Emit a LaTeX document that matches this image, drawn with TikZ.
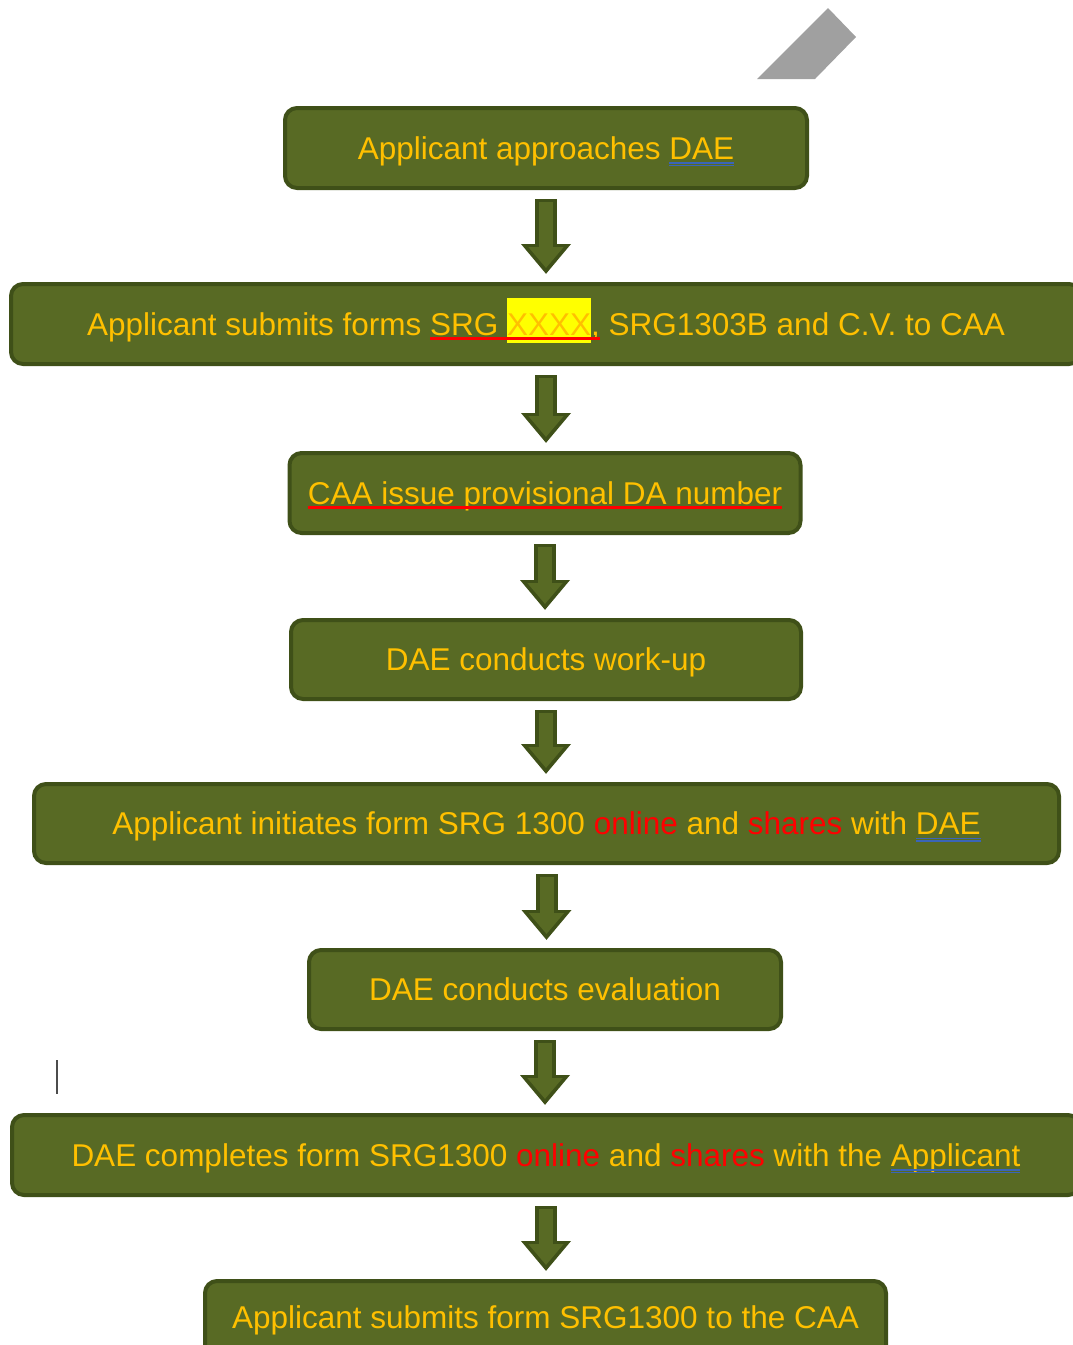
\documentclass[tikz,border=0pt]{standalone}
\usepackage{fontspec}
\setmainfont{Liberation Sans}
\usetikzlibrary{arrows.meta}
\definecolor{boxfill}{HTML}{586A24}
\definecolor{boxedge}{HTML}{3F5018}
\definecolor{gold}{HTML}{FFC000}
\definecolor{ulblue}{HTML}{3A65B8}
\definecolor{hlyellow}{HTML}{FFFF00}
\definecolor{penfill}{HTML}{A0A0A0}
\tikzstyle{box}=[draw=boxedge,line width=4pt,fill=boxfill,rounded corners=12pt,
  inner sep=0pt,text=gold,text height=24pt,text depth=2pt,
  font=\fontsize{31.5pt}{36pt}\selectfont]
\tikzstyle{flowedge}=[line width=22pt,draw=boxedge,
  -{Triangle[length=30pt,width=48pt]},shorten <=9pt,shorten >=8pt]
\tikzstyle{flowcore}=[line width=14pt,draw=boxfill,
  -{Triangle[length=21pt,width=34pt]},shorten <=12pt,shorten >=14pt]
\newsavebox\ulbox
\newcommand{\ulblue}[1]{\sbox\ulbox{#1}\usebox\ulbox\llap{\color{ulblue}%
  \rlap{\rule[-4.5pt]{\wd\ulbox}{1.4pt}}\rule[-7pt]{\wd\ulbox}{1.4pt}}}
\newcommand{\ulred}[1]{\sbox\ulbox{#1}\usebox\ulbox\llap{\color{red}%
  \rule[-5pt]{\wd\ulbox}{2.6pt}}}
\newcommand{\hlyellow}[1]{\sbox\ulbox{#1}\rlap{\color{hlyellow}%
  \rule[-8pt]{\wd\ulbox}{45pt}}\usebox\ulbox}
\newcommand{\hot}[1]{\textcolor{red}{#1}}

\begin{document}
\begin{tikzpicture}[x=1pt,y=-1pt]
  \useasboundingbox (0,0) rectangle (1072,1345);

  % pen mark at the top and the text cursor
  \fill[penfill] (757,79) -- (828,8) -- (856,37) -- (815,79) -- cycle;
  \draw[black!70,line width=1.5pt] (57,1060) -- (57,1094);

  \node[box,minimum width=522pt,minimum height=80pt] (b1) at (546,148)
    {Applicant approaches \ulblue{DAE}};
  \node[box,minimum width=1070pt,minimum height=80pt] (b2) at (546,324)
    {Applicant submits forms \ulred{SRG \hlyellow{XXXX},} SRG1303B and C.V. to CAA};
  \node[box,minimum width=511pt,minimum height=80pt] (b3) at (545,493)
    {\ulred{CAA issue provisional DA number}};
  \node[box,minimum width=510pt,minimum height=79pt] (b4) at (546,659.5)
    {DAE conducts work-up};
  \node[box,minimum width=1025pt,minimum height=79pt] (b5) at (546.5,823.5)
    {Applicant initiates form SRG 1300 \hot{online} and \hot{shares} with \ulblue{DAE}};
  \node[box,minimum width=472pt,minimum height=79pt] (b6) at (545,989.5)
    {DAE conducts evaluation};
  \node[box,minimum width=1068pt,minimum height=80pt] (b7) at (546,1155)
    {DAE completes form SRG1300 \hot{online} and \hot{shares} with the \ulblue{Applicant}};
  \node[box,text depth=10pt,minimum width=681pt,minimum height=80pt] (b8) at (545.5,1321)
    {Applicant submits form SRG1300 to the CAA};

  \foreach \a/\b in {b1/b2,b2/b3,b3/b4,b4/b5,b5/b6,b6/b7,b7/b8} {
    \draw[flowedge] (\a.south) -- (\a.south |- \b.north);
    \draw[flowcore] (\a.south) -- (\a.south |- \b.north);
  }
\end{tikzpicture}
\end{document}
